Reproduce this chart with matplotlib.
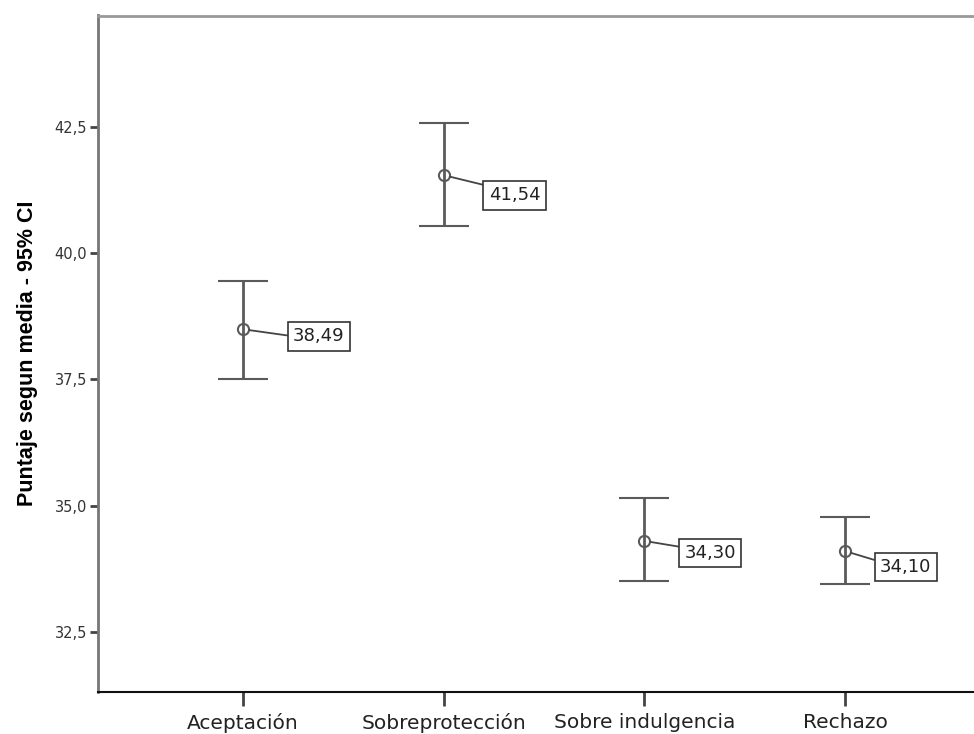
import numpy as np
import matplotlib
matplotlib.use("Agg")
import matplotlib.pyplot as plt
from matplotlib.ticker import FuncFormatter

categories = ["Aceptación", "Sobreprotección", "Sobre indulgencia", "Rechazo"]
means = [38.49, 41.54, 34.30, 34.10]
ci_low = [37.50, 40.53, 33.50, 33.44]
ci_high = [39.45, 42.57, 35.14, 34.78]
mean_labels = ["38,49", "41,54", "34,30", "34,10"]
y_ticks = [32.5, 35.0, 37.5, 40.0, 42.5]

# label box placement (pixels from marker) and leader attach point
LABEL_DX = [50, 45, 40, 35]
LABEL_DY = [7, 20, 12, 16]
LEADER_REL = [0.5, 1.0, 0.8, 0.8]

BAR_COLOR = "#5a5a5a"


def comma_fmt(v, _pos):
    return f"{v:.1f}".replace(".", ",")


def main() -> None:
    fig = plt.figure(figsize=(9.74, 7.34), dpi=100)
    ax = fig.add_axes([98 / 974, 1 - 692 / 734, 1 - 98 / 974, (692 - 15.5) / 734])

    x = np.arange(len(categories))
    means_arr = np.array(means)
    yerr = np.vstack([means_arr - np.array(ci_low), np.array(ci_high) - means_arr])

    ax.errorbar(
        x, means_arr, yerr=yerr, fmt="o", color=BAR_COLOR,
        ecolor=BAR_COLOR, elinewidth=2.0, capsize=18, capthick=2.0,
        markersize=8, markerfacecolor="none", markeredgecolor=BAR_COLOR,
        markeredgewidth=1.5, zorder=3,
    )

    for i, (m, lab) in enumerate(zip(means, mean_labels)):
        ax.annotate(
            lab, xy=(x[i], m), xytext=(LABEL_DX[i], -LABEL_DY[i]),
            textcoords="offset pixels", ha="left", va="center",
            fontsize=13, family="DejaVu Sans", color="#222222",
            bbox=dict(boxstyle="square,pad=0.3", fc="white", ec="#333333", lw=1.2),
            arrowprops=dict(arrowstyle="-", color="#444444", lw=1.3,
                            relpos=(0, LEADER_REL[i]), shrinkA=0, shrinkB=4.5),
            zorder=4,
        )

    ax.set_xlim(-0.723, 3.643)
    ax.set_ylim(31.31, 44.70)
    ax.set_xticks(x)
    ax.set_xticklabels(categories, fontsize=14.5, family="DejaVu Sans", color="#222222")
    ax.set_yticks(y_ticks)
    ax.yaxis.set_major_formatter(FuncFormatter(comma_fmt))
    ax.tick_params(axis="y", labelsize=10.5, length=6, width=2, color="#444444",
                   labelcolor="#333333", pad=2)
    ax.tick_params(axis="x", length=10, width=2, color="#444444", pad=5)

    ax.set_ylabel("Puntaje segun media - 95% CI", fontsize=15.5, fontweight="bold",
                  family="Liberation Sans", labelpad=12)

    ax.spines["right"].set_visible(False)
    ax.spines["left"].set_color("#777777")
    ax.spines["left"].set_linewidth(2)
    ax.spines["top"].set_color("#999999")
    ax.spines["top"].set_linewidth(2)
    ax.spines["bottom"].set_color("#111111")
    ax.spines["bottom"].set_linewidth(1.5)

    fig.savefig("out.png", dpi=100)
    plt.close(fig)


if __name__ == "__main__":
    main()
